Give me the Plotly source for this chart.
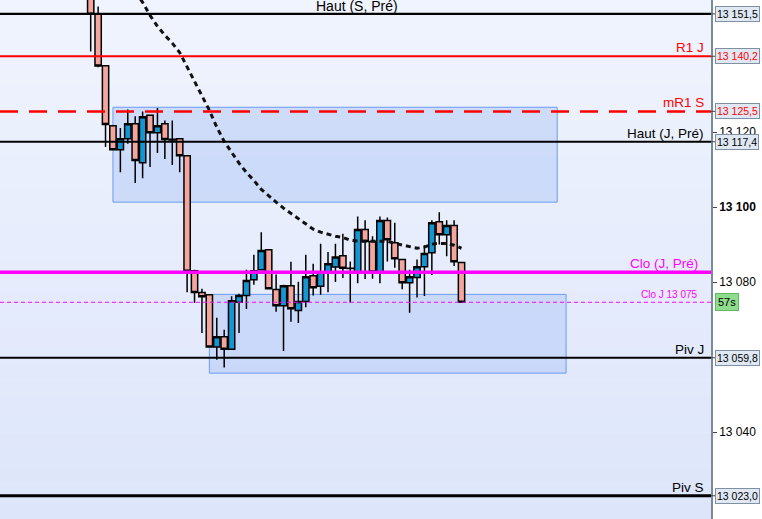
import plotly.graph_objects as go

# candles (price units)
opens = [13163.0, 13151.4, 13137.7, 13121.7, 13115.3, 13118.2, 13122.2, 13111.8, 13124.5, 13119.8,
         13122.2, 13118.1, 13118.2, 13113.7, 13083.0, 13077.2, 13076.6, 13062.7, 13065.4, 13062.1,
         13074.6, 13076.4, 13080.6, 13083.3, 13088.6, 13078.0, 13073.7, 13079.0, 13072.4, 13074.8,
         13081.7, 13078.9, 13082.6, 13084.0, 13087.0, 13083.7, 13082.6, 13094.0, 13090.8, 13082.7,
         13096.4, 13090.5, 13086.0, 13079.8, 13081.2, 13084.1, 13087.8, 13096.1, 13092.6, 13095.1,
         13085.2]
highs = [13168.0, 13153.5, 13137.8, 13121.8, 13121.1, 13126.0, 13124.2, 13125.5, 13124.7, 13126.4,
         13123.1, 13123.1, 13118.4, 13113.8, 13083.3, 13078.2, 13076.7, 13070.5, 13067.3, 13076.2,
         13076.9, 13083.3, 13087.3, 13093.3, 13088.7, 13082.0, 13079.3, 13085.4, 13080.1, 13087.3,
         13084.9, 13090.2, 13088.0, 13090.2, 13092.9, 13085.5, 13097.5, 13096.5, 13092.2, 13097.5,
         13097.2, 13095.8, 13086.0, 13083.3, 13086.0, 13089.8, 13096.5, 13098.6, 13096.5, 13096.5,
         13085.3]
lows = [13141.5, 13137.3, 13116.0, 13115.2, 13109.3, 13116.9, 13106.4, 13107.7, 13110.7, 13114.4,
        13112.8, 13111.2, 13109.3, 13077.3, 13074.4, 13066.4, 13062.6, 13059.3, 13057.2, 13062.0,
        13066.4, 13072.8, 13079.3, 13083.1, 13078.0, 13072.1, 13061.6, 13069.4, 13069.1, 13073.3,
        13076.4, 13076.6, 13077.3, 13080.0, 13081.1, 13074.5, 13079.7, 13080.8, 13080.9, 13079.7,
        13085.5, 13083.8, 13078.1, 13071.8, 13075.9, 13076.3, 13081.9, 13090.0, 13086.9, 13084.3,
        13074.6]
closes = [13151.4, 13137.6, 13122.0, 13115.3, 13118.2, 13122.2, 13112.4, 13124.1, 13119.8, 13121.7,
          13118.0, 13117.9, 13113.7, 13082.9, 13077.2, 13076.1, 13062.7, 13065.4, 13062.1, 13075.0,
          13076.4, 13080.4, 13083.0, 13088.4, 13078.2, 13073.7, 13079.0, 13072.9, 13074.8, 13081.4,
          13078.5, 13082.7, 13084.9, 13086.7, 13083.7, 13083.6, 13094.0, 13090.8, 13082.7, 13096.4,
          13091.3, 13086.2, 13079.8, 13081.4, 13084.1, 13087.6, 13095.8, 13092.6, 13095.1, 13085.4,
          13074.6]
bars = list(range(len(opens)))

# dotted moving average
ma_bars = list(range(6, 51))
ma_values = [13157.3, 13154.6, 13151.1, 13148.2, 13145.8, 13143.7, 13141.2, 13137.3, 13133.3, 13129.5,
             13125.8, 13121.3, 13117.5, 13114.6, 13111.7, 13109.2, 13107.1, 13104.7, 13102.9, 13101.3,
             13099.7, 13098.3, 13097.0, 13095.4, 13094.1, 13093.3, 13092.7, 13092.2, 13091.9, 13091.1,
             13090.9, 13090.9, 13091.1, 13091.1, 13090.9, 13090.3, 13089.8, 13089.5, 13089.0, 13089.3,
             13090.1, 13090.3, 13090.3, 13089.8, 13089.0]

# horizontal levels
level_names = ["Haut (S, Pré)", "R1 J", "mR1 S", "Haut (J, Pré)", "Clo (J, Pré)", "Clo J 13 075", "Piv J", "Piv S"]
level_values = [13151.5, 13140.2, 13125.5, 13117.4, 13082.6, 13074.6, 13059.8, 13023.0]

# boxed price labels on the axis
box_texts = ["13 151,5", "13 140,2", "13 125,5", "13 117,4", "13 059,8", "13 023,0"]
box_values = [13151.5, 13140.2, 13125.5, 13117.4, 13059.8, 13023.0]
timer_text = "57s"

tick_values = [13040, 13080, 13100, 13120]
tick_texts = ["13 040", "13 080", "<b>13 100</b>", "13 120"]

# shaded zones
zone_start = [3.0, 16.0]
zone_end = [62.9, 64.1]
zone_top = [13126.6, 13076.7]
zone_bottom = [13101.3, 13055.7]

FONT = "Liberation Sans, Arial, sans-serif"

fig = go.Figure()
fig.add_trace(go.Candlestick(
    x=bars, open=opens, high=highs, low=lows, close=closes,
    increasing=dict(fillcolor="#1496d2", line=dict(color="#000000", width=1.5)),
    decreasing=dict(fillcolor="#f4a59d", line=dict(color="#000000", width=1.5)),
    whiskerwidth=0, showlegend=False, hoverinfo="skip",
))
fig.add_trace(go.Scatter(
    x=ma_bars, y=ma_values, mode="lines",
    line=dict(color="#111111", width=3, dash="5px,4px"),
    showlegend=False, hoverinfo="skip",
))

# background gradient
n_bands = 30
for k in range(n_bands):
    t = k / (n_bands - 1)
    r = round(240 - 19 * t)
    g = round(244 - 15 * t)
    b = round(254 - 4 * t)
    fig.add_shape(type="rect", xref="paper", yref="paper", layer="below",
                  x0=0, x1=1, y0=1 - (k + 1) / n_bands, y1=1 - k / n_bands,
                  fillcolor=f"rgb({r},{g},{b})", line=dict(width=0))

for x0, x1, y0, y1 in zip(zone_start, zone_end, zone_bottom, zone_top):
    fig.add_shape(type="rect", xref="x", yref="y", layer="below",
                  x0=x0, x1=x1, y0=y0, y1=y1,
                  fillcolor="rgba(170,196,246,0.45)", line=dict(color="#6b9bf2", width=1))

styles = {
    "Haut (S, Pré)": ("#000000", 2.2, "solid"),
    "R1 J": ("#ff0000", 2, "solid"),
    "mR1 S": ("#ff0000", 2.5, "18px,11px"),
    "Haut (J, Pré)": ("#000000", 2.2, "solid"),
    "Clo (J, Pré)": ("#ff00ff", 3.5, "solid"),
    "Clo J 13 075": ("#ff00ff", 1, "4px,3px"),
    "Piv J": ("#000000", 2.2, "solid"),
    "Piv S": ("#000000", 3, "solid"),
}

for name, val in zip(level_names, level_values):
    color, width, dash = styles[name]
    fig.add_shape(type="line", xref="paper", yref="y", x0=0, x1=1, y0=val, y1=val,
                  line=dict(color=color, width=width, dash=dash))
    if name == "Haut (S, Pré)":
        fig.add_annotation(x=0.502, xref="paper", y=val, yref="y", text=name, showarrow=False,
                           xanchor="center", yanchor="bottom", yshift=-2,
                           font=dict(family=FONT, size=14, color=color))
    elif name == "Clo J 13 075":
        fig.add_annotation(x=0.985, xref="paper", y=val, yref="y", text=name, showarrow=False,
                           xanchor="right", yanchor="bottom", yshift=0,
                           font=dict(family=FONT, size=10, color=color))
    else:
        xr = 0.985 if name == "Clo (J, Pré)" else 0.993
        fig.add_annotation(x=xr, xref="paper", y=val, yref="y", text=name, showarrow=False,
                           xanchor="right", yanchor="bottom", yshift=-1,
                           font=dict(family=FONT, size=13.5, color=color))

for txt, val in zip(box_texts, box_values):
    col = "#ff0000" if val in (13140.2, 13125.5) else "#000000"
    fig.add_shape(type="line", xref="paper", yref="y", x0=1, x1=1.007, y0=val, y1=val,
                  line=dict(color="#444444", width=1))
    fig.add_annotation(x=1, xref="paper", y=val, yref="y", text=txt, showarrow=False,
                       xanchor="left", yanchor="middle", xshift=4,
                       font=dict(family=FONT, size=10.5, color=col),
                       bgcolor="#dfe8f3", bordercolor="#7d90a4", borderwidth=1, borderpad=1)

fig.add_annotation(x=1, xref="paper", y=level_values[5], yref="y", text=timer_text, showarrow=False,
                   xanchor="left", yanchor="middle", xshift=4,
                   font=dict(family=FONT, size=11, color="#000000"),
                   bgcolor="#8fdc8c", bordercolor="#62b862", borderwidth=1, borderpad=2)

fig.update_layout(
    width=762, height=519,
    margin=dict(l=0, r=51, t=0, b=0),
    paper_bgcolor="#ffffff", plot_bgcolor="#e8eefc",
    boxgap=0.15, boxgroupgap=0,
    showlegend=False,
    xaxis=dict(visible=False, range=[-12.23, 83.64], rangeslider=dict(visible=False)),
    yaxis=dict(side="right", range=[13016.8, 13155.2], showgrid=False, zeroline=False,
               showline=True, linecolor="#7a8a99", linewidth=1.5,
               ticks="outside", ticklen=4, tickcolor="#444444",
               tickvals=tick_values, ticktext=tick_texts,
               tickfont=dict(family=FONT, size=12, color="#000000")),
)

# drop the page's default body margin so the chart sits at the window's corner
fig.write_html("out.html", config={"displayModeBar": False},
               post_script="document.body.style.margin='0';")
